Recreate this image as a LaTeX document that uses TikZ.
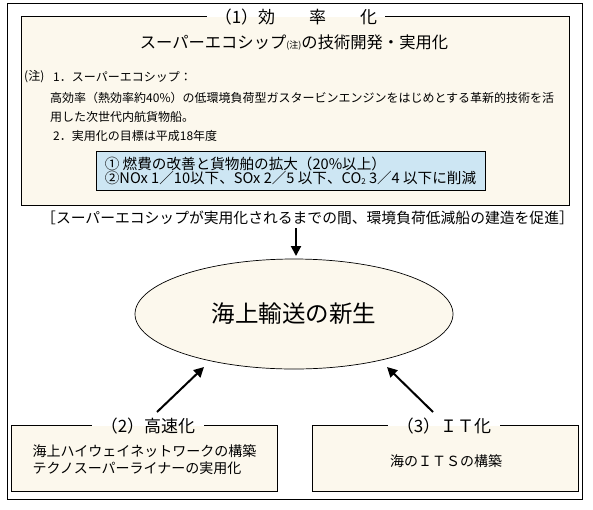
\documentclass[tikz,border=0pt]{standalone}
\usepackage{fontspec}
\setmainfont{Noto Sans CJK JP}
\usetikzlibrary{shapes.geometric,arrows.meta}
\definecolor{cream}{RGB}{252,248,237}
\definecolor{skyb}{RGB}{205,230,243}
\newcommand\jfs[1]{\fontsize{#1}{#1}\selectfont}
\begin{document}
\begin{tikzpicture}[x=1pt,y=-1pt,
  panelfill/.style={fill=cream, draw=none, inner sep=0pt, rectangle},
  border/.style={draw=black, line width=0.9pt},
  ttl/.style={inner xsep=9pt, inner ysep=0pt, font=\jfs{17}},
  txt/.style={inner sep=0pt, anchor=west},
  arr/.style={-{Triangle[length=10pt,width=10pt]}, line width=2pt},
]
\useasboundingbox (0,0) rectangle (593,509);
% outer frame
\node[draw=black, line width=0.8pt, minimum width=575pt, minimum height=496pt, inner sep=0pt] (outer) at (294.5,251) {};

% top panel
\node[panelfill, minimum width=547pt, minimum height=188pt] (p1) at (295.5,111) {};
\node[ttl, inner xsep=8pt] (t1) at (296,17) {（1）効\hspace{2em}率\hspace{2em}化};
\draw[border] (t1.west |- p1.north) -- (p1.north west) -- (p1.south west) -- (p1.south east) -- (p1.north east) -- (t1.east |- p1.north);
\node[inner sep=0pt, font=\jfs{16.3}] (sub) at (294,43) {スーパーエコシップ{\jfs{9}(注)}の技術開発・実用化};
\node[txt, font=\jfs{12}] (n0) at (24,77) {(注)};
\node[txt, font=\jfs{12}] (n1) at (53,77) {1．スーパーエコシップ：};
\node[txt, font=\jfs{12}] (n2) at (50,98) {高効率（熱効率約40\%）の低環境負荷型ガスタービンエンジンをはじめとする革新的技術を活};
\node[txt, font=\jfs{12}] (n3) at (50,117) {用した次世代内航貨物船。};
\node[txt, font=\jfs{12}] (n4) at (53,136) {2．実用化の目標は平成18年度};
\node[draw=black, line width=0.9pt, fill=skyb, minimum width=389pt, minimum height=39pt, inner sep=0pt,
      align=left, font=\jfs{14.6}] (blue) at (290.5,170.5)
  {① 燃費の改善と貨物舶の拡大（20\%以上）\\[-0.5pt]②NOx 1／10以下、SOx 2／5 以下、CO{\jfs{8}\raisebox{-1pt}{2}} 3／4 以下に削減};

% bracket text
\node[txt, font=\jfs{14.8}] (brk) at (41,218) {［スーパーエコシップが実用化されるまでの間、環境負荷低減船の建造を促進］};

% ellipse
\node[ellipse, draw=black, line width=0.7pt, fill=cream, minimum width=318pt, minimum height=110pt, inner sep=0pt,
      font=\jfs{23.5}] (goal) at (294,314) {海上輸送の新生};

% bottom left panel
\node[panelfill, minimum width=265pt, minimum height=65pt] (p2) at (144.5,458.5) {};
\node[ttl] (t2) at (148,426) {（2）高速化};
\draw[border] (t2.west |- p2.north) -- (p2.north west) -- (p2.south west) -- (p2.south east) -- (p2.north east) -- (t2.east |- p2.north);
\node[inner sep=0pt, align=left, font=\jfs{14}] (b2) at (144.5,459.5) {海上ハイウェイネットワークの構築\\[3pt]テクノスーパーライナーの実用化};

% bottom right panel
\node[panelfill, minimum width=265pt, minimum height=65pt] (p3) at (445.5,458.5) {};
\node[ttl] (t3) at (444,426) {（3）ＩＴ化};
\draw[border] (t3.west |- p3.north) -- (p3.north west) -- (p3.south west) -- (p3.south east) -- (p3.north east) -- (t3.east |- p3.north);
\node[inner sep=0pt, font=\jfs{14}] (b3) at (446,461) {海のＩＴＳの構築};

% arrows
\coordinate (a1s) at (296,228);
\coordinate (a1e) at (296,256);
\coordinate (a2s) at (157,412);
\coordinate (a2e) at (204,367);
\coordinate (a3s) at (433,412);
\coordinate (a3e) at (387,367);
\draw[arr] (a1s) -- (a1e);
\draw[arr] (a2s) -- (a2e);
\draw[arr] (a3s) -- (a3e);
\end{tikzpicture}
\end{document}
